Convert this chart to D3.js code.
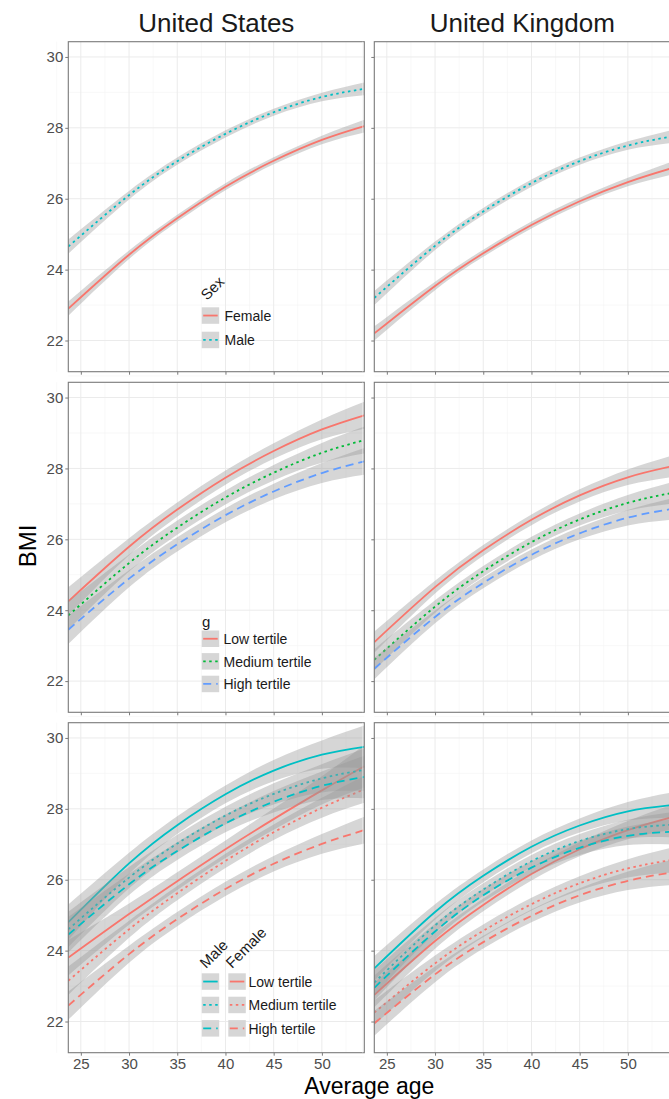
<!DOCTYPE html>
<html><head><meta charset="utf-8">
<script src="https://cdn.jsdelivr.net/npm/d3@7"></script>
<style>body{margin:0;background:#fff}svg{display:block;font-family:"Liberation Sans",Arial,Helvetica,sans-serif}</style>
</head><body><svg id="c" width="669" height="1099"></svg>
<script>
// ---------- data ----------
const ages = [23.7, 30, 35, 40, 45, 50, 54.4];
const xTicks = [25, 30, 35, 40, 45, 50];
const yTicks = [22, 24, 26, 28, 30];
const countries = ["United States", "United Kingdom"];
const sexLabels = ["Female", "Male"];
const tertileLabels = ["Low tertile", "Medium tertile", "High tertile"];

// United States – by sex
const usFemale   = [22.9, 24.42, 25.45, 26.34, 27.07, 27.66, 28.05];
const usMale     = [24.65, 26.1, 27.06, 27.83, 28.44, 28.87, 29.1];
// United States – by g tertile
const usLow      = [24.25, 25.79, 26.84, 27.74, 28.49, 29.1, 29.5];
const usMedium   = [23.85, 25.33, 26.33, 27.18, 27.88, 28.44, 28.8];
const usHigh     = [23.45, 24.89, 25.86, 26.68, 27.35, 27.87, 28.2];
// United States – sex x tertile
const usMaleLow      = [24.8, 26.46, 27.54, 28.41, 29.08, 29.53, 29.75];
const usMaleMedium   = [24.6, 26.06, 27.02, 27.81, 28.42, 28.86, 29.1];
const usMaleHigh     = [24.45, 25.87, 26.81, 27.59, 28.2, 28.65, 28.9];
const usFemaleLow    = [23.8, 25.03, 25.96, 26.86, 27.71, 28.52, 29.2];
const usFemaleMedium = [23.15, 24.6, 25.62, 26.53, 27.34, 28.03, 28.55];
const usFemaleHigh   = [22.45, 23.9, 24.89, 25.74, 26.45, 27.01, 27.4];
// United Kingdom – by sex
const ukFemale   = [22.2, 23.54, 24.46, 25.26, 25.93, 26.47, 26.85];
const ukMale     = [23.2, 24.67, 25.64, 26.44, 27.06, 27.5, 27.75];
// United Kingdom – by g tertile
const ukLow      = [23.1, 24.65, 25.69, 26.55, 27.24, 27.75, 28.05];
const ukMedium   = [22.6, 24.1, 25.1, 25.92, 26.56, 27.03, 27.3];
const ukHigh     = [22.35, 23.81, 24.77, 25.56, 26.17, 26.61, 26.85];
// United Kingdom – sex x tertile
const ukMaleLow      = [23.5, 25.09, 26.11, 26.93, 27.53, 27.93, 28.1];
const ukMaleMedium   = [23.1, 24.71, 25.72, 26.52, 27.09, 27.43, 27.55];
const ukMaleHigh     = [22.95, 24.54, 25.56, 26.34, 26.9, 27.24, 27.35];
const ukFemaleLow    = [22.75, 24.27, 25.29, 26.16, 26.86, 27.4, 27.75];
const ukFemaleMedium = [22.25, 23.64, 24.56, 25.31, 25.9, 26.32, 26.55];
const ukFemaleHigh   = [21.95, 23.33, 24.24, 24.98, 25.56, 25.97, 26.2];

// confidence half-widths
const ciNarrow = [0.2, 0.12, 0.1, 0.1, 0.1, 0.12, 0.18];
const ciMid    = [0.4, 0.24, 0.2, 0.2, 0.22, 0.28, 0.38];
const ciWide   = [0.5, 0.3, 0.25, 0.25, 0.3, 0.4, 0.6];
const ciUkMid  = [0.3, 0.18, 0.15, 0.15, 0.17, 0.22, 0.3];
const ciUkWide = [0.35, 0.22, 0.18, 0.18, 0.2, 0.26, 0.35];

// ---------- styles ----------
const RED = "#F8766D", TEAL = "#00BFC4", GREEN = "#00BA38", BLUE = "#619CFF";
const DASH = {solid: null, dotted: "2.5,3.5", dashed: "8,5"};

// series: [row, col, values, ci, colour, linetype]
const series = [
  [0, 0, usFemale, ciNarrow, RED, "solid"],
  [0, 0, usMale, ciNarrow, TEAL, "dotted"],
  [1, 0, usLow, ciMid, RED, "solid"],
  [1, 0, usMedium, ciMid, GREEN, "dotted"],
  [1, 0, usHigh, ciMid, BLUE, "dashed"],
  [2, 0, usFemaleLow, ciWide, RED, "solid"],
  [2, 0, usFemaleMedium, ciMid, RED, "dotted"],
  [2, 0, usFemaleHigh, ciMid, RED, "dashed"],
  [2, 0, usMaleLow, ciWide, TEAL, "solid"],
  [2, 0, usMaleMedium, ciWide, TEAL, "dotted"],
  [2, 0, usMaleHigh, ciWide, TEAL, "dashed"],
  [0, 1, ukFemale, ciNarrow, RED, "solid"],
  [0, 1, ukMale, ciNarrow, TEAL, "dotted"],
  [1, 1, ukLow, ciUkMid, RED, "solid"],
  [1, 1, ukMedium, ciUkMid, GREEN, "dotted"],
  [1, 1, ukHigh, ciUkMid, BLUE, "dashed"],
  [2, 1, ukFemaleLow, ciUkWide, RED, "solid"],
  [2, 1, ukFemaleMedium, ciUkWide, RED, "dotted"],
  [2, 1, ukFemaleHigh, ciUkWide, RED, "dashed"],
  [2, 1, ukMaleLow, ciUkWide, TEAL, "solid"],
  [2, 1, ukMaleMedium, ciUkWide, TEAL, "dotted"],
  [2, 1, ukMaleHigh, ciUkWide, TEAL, "dashed"]
];

// ---------- layout ----------
const svg = d3.select("#c");
const colX = [68.3, 374.3], panelW = 296;
const rowY = [41.7, 382.3, 722.7], panelH = 330;
const xDomain = [23.7, 54.4], yDomain = [21.12, 30.43];
const tickCol = "#4d4d4d";

const defs = svg.append("defs");
const panels = {};
rowY.forEach((py, r) => colX.forEach((px, c) => {
  const x = d3.scaleLinear().domain(xDomain).range([px, px + panelW]);
  const y = d3.scaleLinear().domain(yDomain).range([py + panelH, py]);
  const id = `clip${r}${c}`;
  defs.append("clipPath").attr("id", id).append("rect")
    .attr("x", px).attr("y", py).attr("width", panelW).attr("height", panelH);
  const g = svg.append("g");
  const grid = g.append("g");
  const xMinor = d3.range(22.5, 55, 5), yMinor = d3.range(21, 31, 2);
  xMinor.forEach(v => grid.append("line").attr("x1", x(v)).attr("x2", x(v)).attr("y1", py).attr("y2", py + panelH).attr("stroke", "#f4f4f4").attr("stroke-width", 0.6));
  yMinor.forEach(v => grid.append("line").attr("y1", y(v)).attr("y2", y(v)).attr("x1", px).attr("x2", px + panelW).attr("stroke", "#f4f4f4").attr("stroke-width", 0.6));
  xTicks.forEach(v => grid.append("line").attr("x1", x(v)).attr("x2", x(v)).attr("y1", py).attr("y2", py + panelH).attr("stroke", "#ebebeb").attr("stroke-width", 1));
  yTicks.forEach(v => grid.append("line").attr("y1", y(v)).attr("y2", y(v)).attr("x1", px).attr("x2", px + panelW).attr("stroke", "#ebebeb").attr("stroke-width", 1));
  const data = g.append("g").attr("clip-path", `url(#${id})`);
  panels[r + "_" + c] = {x, y, g, data, px, py};
}));

// ---------- smooths ----------
series.forEach(([r, c, vals, ci, col, lt]) => {
  const p = panels[r + "_" + c];
  const pts = ages.map((a, i) => ({a, v: vals[i], lo: vals[i] - ci[i], hi: vals[i] + ci[i]}));
  const area = d3.area().curve(d3.curveNatural).x(d => p.x(d.a)).y0(d => p.y(d.lo)).y1(d => p.y(d.hi));
  const line = d3.line().curve(d3.curveNatural).x(d => p.x(d.a)).y(d => p.y(d.v));
  p.data.append("path").attr("d", area(pts)).attr("fill", "#999999").attr("fill-opacity", 0.4);
  p.data.append("path").attr("d", line(pts)).attr("fill", "none").attr("stroke", col)
    .attr("stroke-width", 1.8).attr("stroke-dasharray", DASH[lt]);
});

// ---------- borders, axes ----------
Object.entries(panels).forEach(([k, p]) => {
  const [r, c] = k.split("_").map(Number);
  p.g.append("rect").attr("x", p.px).attr("y", p.py).attr("width", panelW).attr("height", panelH)
    .attr("fill", "none").attr("stroke", "#7a7a7a").attr("stroke-width", 1.1);
  const ya = d3.axisLeft(p.y).tickValues(yTicks).tickSize(3).tickPadding(2).tickFormat(c === 0 ? d3.format("d") : () => "");
  const gy = p.g.append("g").attr("transform", `translate(${p.px},0)`).call(ya);
  gy.select(".domain").remove();
  gy.selectAll("line").attr("stroke", "#7a7a7a");
  gy.selectAll("text").attr("fill", tickCol).attr("font-size", 15).attr("font-family", "Liberation Sans, Arial, sans-serif");
  const xa = d3.axisBottom(p.x).tickValues(xTicks).tickSize(3).tickPadding(3).tickFormat(r === 2 ? d3.format("d") : () => "");
  const gx = p.g.append("g").attr("transform", `translate(0,${p.py + panelH})`).call(xa);
  gx.select(".domain").remove();
  gx.selectAll("line").attr("stroke", "#7a7a7a");
  gx.selectAll("text").attr("fill", tickCol).attr("font-size", 15).attr("font-family", "Liberation Sans, Arial, sans-serif");
});

// strip titles
countries.forEach((t, c) => svg.append("text").attr("x", colX[c] + panelW / 2).attr("y", 32)
  .attr("text-anchor", "middle").attr("font-size", 26).attr("fill", "#1a1a1a").text(t));
// axis titles
svg.append("text").attr("x", (colX[0] + colX[1] + panelW) / 2).attr("y", 1094).attr("text-anchor", "middle")
  .attr("font-size", 23).attr("fill", "#000").text("Average age");
svg.append("text").attr("transform", "translate(36,546) rotate(-90)").attr("text-anchor", "middle")
  .attr("font-size", 24).attr("fill", "#000").text("BMI");

// ---------- legends ----------
const KW = 17.5, KH = 16.5;
function key(x, y, col, lt) {
  svg.append("rect").attr("x", x).attr("y", y).attr("width", KW).attr("height", KH).attr("fill", "#d6d6d6");
  svg.append("line").attr("x1", x + 1.5).attr("x2", x + KW - 1.5).attr("y1", y + KH / 2).attr("y2", y + KH / 2)
    .attr("stroke", col).attr("stroke-width", 1.8).attr("stroke-dasharray", DASH[lt]);
}
function label(x, y, t) {
  svg.append("text").attr("x", x).attr("y", y).attr("dominant-baseline", "central")
    .attr("font-size", 14).attr("fill", "#1a1a1a").text(t);
}
svg.append("text").attr("transform", "translate(207,301) rotate(-45)").attr("font-size", 15).attr("fill", "#1a1a1a").text("Sex");
[[RED, "solid"], [TEAL, "dotted"]].forEach(([col, lt], i) => {
  const y0 = 307.3 + i * 24.4;
  key(201.7, y0, col, lt);
  label(224.5, y0 + KH / 2 + 0.5, sexLabels[i]);
});
svg.append("text").attr("x", 202).attr("y", 627).attr("font-size", 15).attr("fill", "#1a1a1a").text("g");
[[RED, "solid"], [GREEN, "dotted"], [BLUE, "dashed"]].forEach(([col, lt], i) => {
  const y0 = 630.5 + i * 22.6;
  key(201.7, y0, col, lt);
  label(223.5, y0 + KH / 2 + 0.5, tertileLabels[i]);
});
svg.append("text").attr("transform", "translate(206,969) rotate(-45)").attr("font-size", 15).attr("fill", "#1a1a1a").text("Male");
svg.append("text").attr("transform", "translate(232,969) rotate(-45)").attr("font-size", 15).attr("fill", "#1a1a1a").text("Female");
["solid", "dotted", "dashed"].forEach((lt, i) => {
  const y0 = 973.3 + i * 23.4;
  key(201.7, y0, TEAL, lt);
  key(228.3, y0, RED, lt);
  label(248.5, y0 + KH / 2 + 0.5, tertileLabels[i]);
});
</script></body></html>
